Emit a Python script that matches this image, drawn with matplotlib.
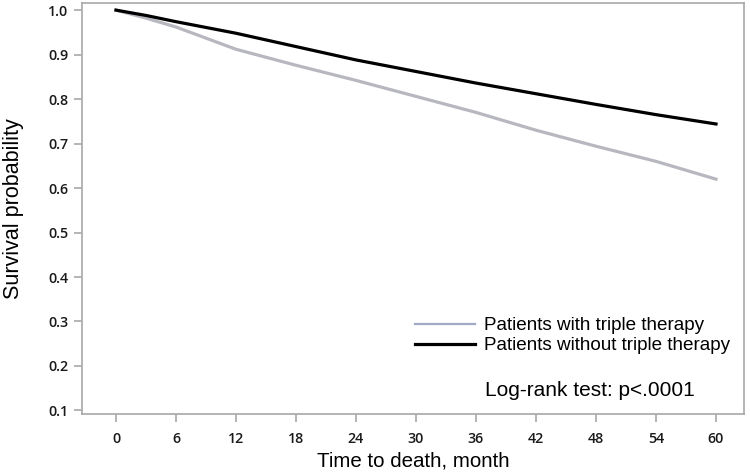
import numpy as np
import matplotlib
matplotlib.use("Agg")
import matplotlib.pyplot as plt

# Curvas de supervivencia
meses = [0, 3, 6, 9, 12, 18, 24, 30, 36, 42, 48, 54, 60]
sin_triple = [1.0, 0.988, 0.974, 0.961, 0.948, 0.918, 0.888, 0.862, 0.836, 0.812, 0.788, 0.765, 0.744]
con_triple = [1.0, 0.982, 0.962, 0.937, 0.912, 0.876, 0.842, 0.806, 0.770, 0.730, 0.694, 0.660, 0.620]

xticks = list(range(0, 61, 6))
yticks = [0.1, 0.2, 0.3, 0.4, 0.5, 0.6, 0.7, 0.8, 0.9, 1.0]

fig = plt.figure(figsize=(7.5, 4.75), dpi=100)
ax = fig.add_axes([0.1093, 0.1284, 0.8827, 0.8653])

ax.plot(meses, con_triple, color="#b7b8bf", linewidth=2.3, label="Patients with triple therapy")
ax.plot(meses, sin_triple, color="black", linewidth=2.3, label="Patients without triple therapy")

ax.set_xlim(-3.4, 62.8)
ax.set_ylim(0.092, 1.016)
ax.set_xticks(xticks)
ax.set_yticks(yticks)
ax.set_yticklabels([f"{v:.1f}" for v in yticks])

# Ejes y marcas
gris = "#a8a8a8"
for s in ax.spines.values():
    s.set_color(gris)
    s.set_linewidth(1.2)
ax.tick_params(colors=gris, length=6, width=1.2, direction="out")
for lab in ax.get_xticklabels() + ax.get_yticklabels():
    lab.set_family("Open Sans")
    lab.set_fontsize(10.3)
    lab.set_weight("semibold")
    lab.set_color("#1a1a1a")
ax.tick_params(axis="x", pad=7)
ax.tick_params(axis="y", pad=4)

ax.set_xlabel("Time to death, month", family="Liberation Sans", fontsize=14.8, labelpad=4)
ax.set_ylabel("Survival probability", family="Liberation Sans", fontsize=15.5, labelpad=17)

# Leyenda
leg = fig.legend(loc="upper left", bbox_to_anchor=(0.5533, 0.3326),
                 bbox_transform=fig.transFigure, frameon=False,
                 prop={"family": "Liberation Sans", "size": 13.6},
                 handlelength=3.2, handletextpad=0.45, labelspacing=0.15,
                 borderpad=0, borderaxespad=0)
leg.get_lines()[0].set_color("#a2a9c4")
leg.get_lines()[0].set_linewidth(1.6)

fig.text(0.6467, 0.1789, "Log-rank test: p<.0001", family="Liberation Sans",
         fontsize=15, va="center", ha="left")

fig.savefig("out.png", dpi=100)
